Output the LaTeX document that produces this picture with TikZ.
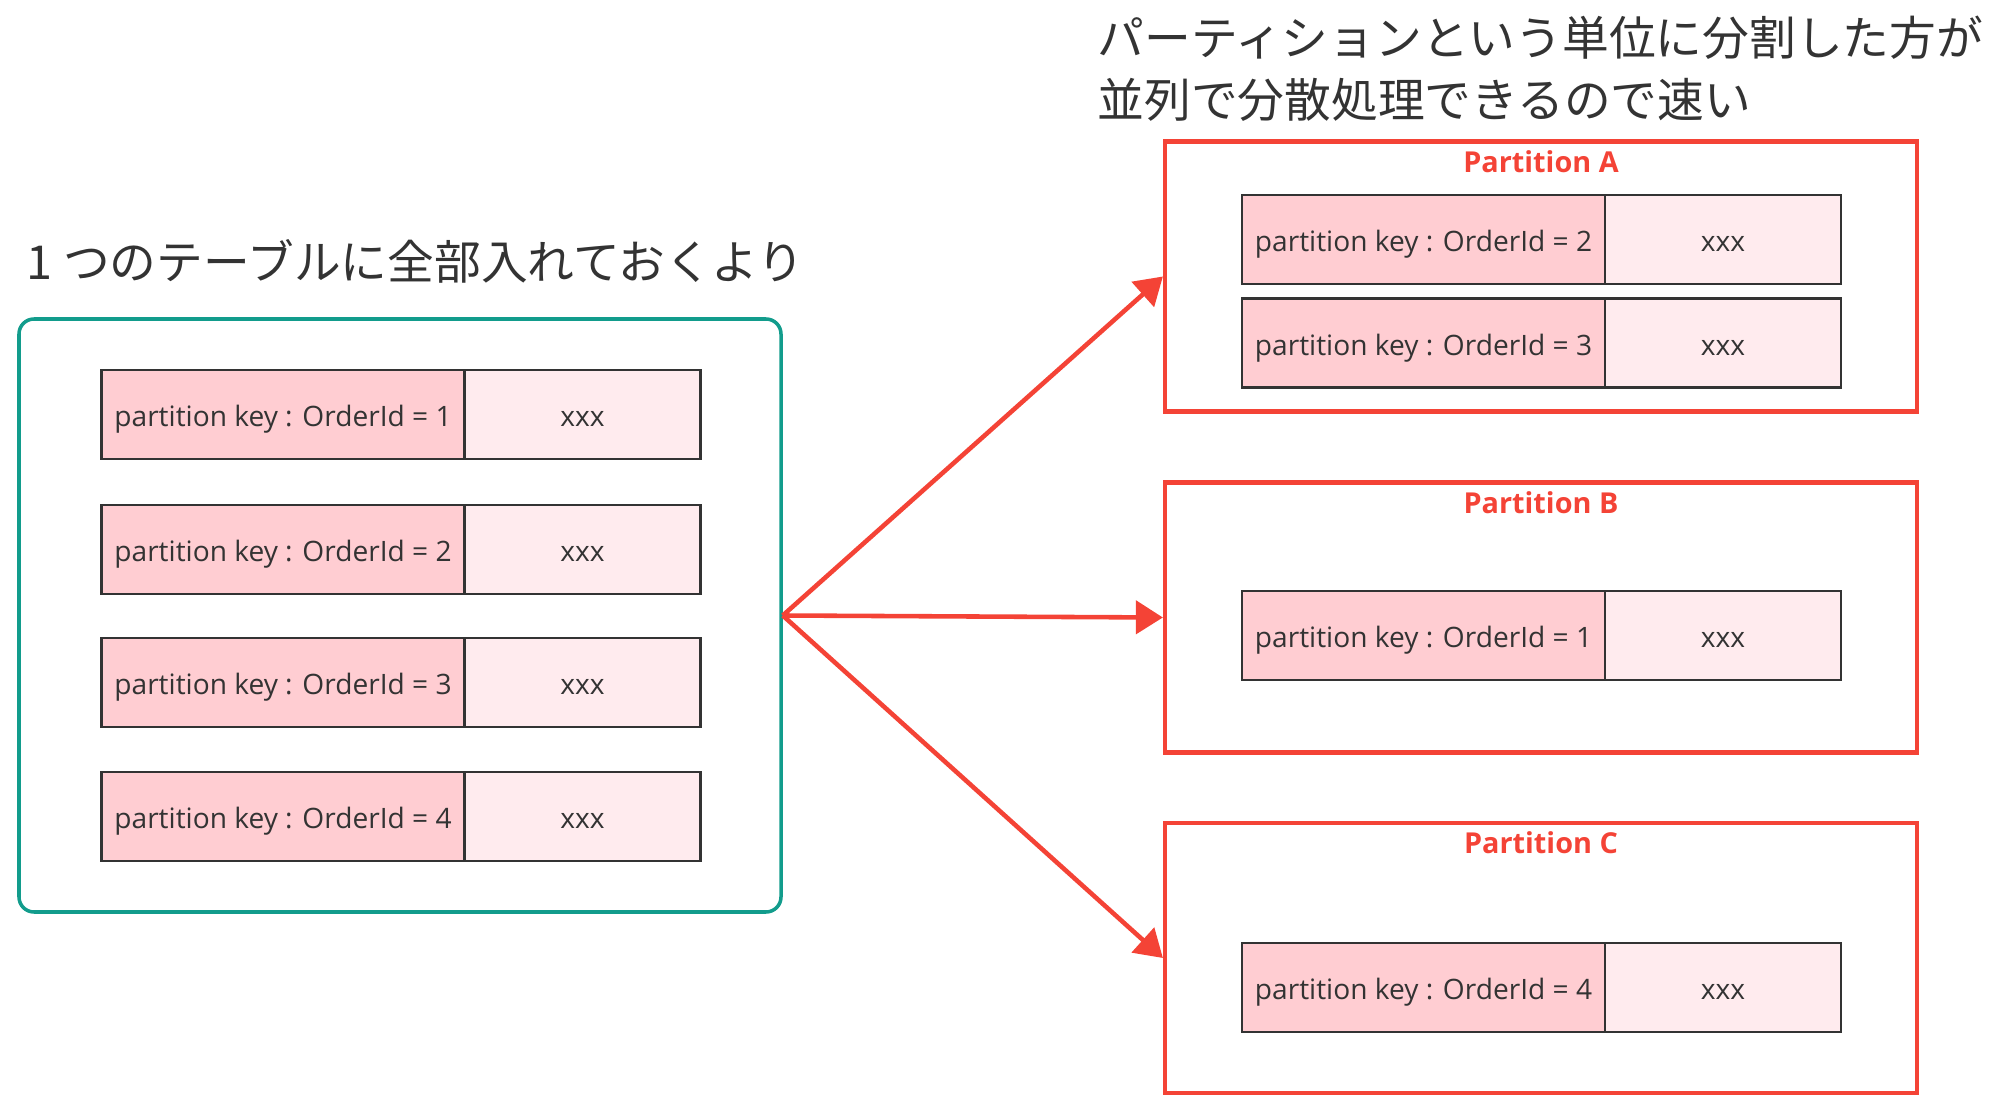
\documentclass[tikz,border=0pt]{standalone}
\usepackage{fontspec}
\setmainfont{Open Sans}
\newfontfamily\jpfont{Noto Sans CJK JP}
\usetikzlibrary{positioning, arrows.meta, calc}

\definecolor{tealline}{HTML}{129C8C}
\definecolor{partred}{HTML}{F44336}
\definecolor{keyfill}{HTML}{FFCDD2}
\definecolor{valfill}{HTML}{FFEBEE}
\definecolor{inkgray}{HTML}{333333}

\begin{document}
\begin{tikzpicture}[
    every node/.style={font=\fontsize{8pt}{10pt}\selectfont, text=inkgray},
    keycell/.style={
        rectangle,
        draw=inkgray,
        fill=keyfill,
        minimum width=3.63cm,
        minimum height=0.89cm,
        text height=1.65ex,
        text depth=0.35ex,
        inner sep=0pt,
        outer sep=0pt,
        line width=0.6pt
    },
    valcell/.style={
        keycell,
        fill=valfill,
        minimum width=2.36cm
    },
    tablebox/.style={
        rectangle,
        draw=tealline,
        minimum width=7.62cm,
        minimum height=5.93cm,
        line width=1pt,
        rounded corners=0.15cm
    },
    partbox/.style={
        rectangle,
        draw=partred,
        minimum width=7.52cm,
        minimum height=2.7cm,
        line width=1.2pt
    },
    ptitle/.style={
        font=\fontsize{8.2pt}{10pt}\selectfont\bfseries,
        text=partred,
        inner sep=0pt
    },
    heading/.style={
        font=\jpfont\fontsize{13.3pt}{17.6pt}\selectfont,
        text=inkgray,
        inner sep=0pt,
        align=left
    },
    arrow/.style={
        -{Triangle[length=0.27cm, width=0.33cm]},
        line width=1.3pt,
        color=partred
    }
]
\useasboundingbox (0,0) rectangle (20,-11.12);

% Headings
\node[heading, anchor=west] (lhead) at (0.26,-2.61) {1 つのテーブルに全部入れておくより};
\node[heading, anchor=north west] (rhead) at (10.97,-0.15)
    {パーティションという単位に分割した方が\\並列で分散処理できるので速い};

% Single table
\node[tablebox] (tbl) at (4.00,-6.155) {};
\foreach \i/\y in {1/4.145, 2/5.495, 3/6.825, 4/8.165} {
    \node[keycell] (lkey\i) at (2.83,-\y) {partition key : OrderId = \i};
    \node[valcell, right=0pt of lkey\i] (lval\i) {xxx};
}

% Partitions
\node[partbox] (partA) at (15.41,-2.765) {};
\node[partbox] (partB) at (15.41,-6.175) {};
\node[partbox] (partC) at (15.41,-9.58) {};
\foreach \p in {A, B, C} {
    \node[ptitle, anchor=base] (title\p) at ($(part\p.north)+(0,-0.33)$) {Partition \p};
}
\foreach \n/\y/\id in {a1/2.395/2, a2/3.43/3, b1/6.355/1, c1/9.875/4} {
    \node[keycell] (rkey\n) at (14.235,-\y) {partition key : OrderId = \id};
    \node[valcell, right=0pt of rkey\n] (rval\n) {xxx};
}

% Split arrows
\draw[arrow] (tbl.east) -- (partA.west);
\draw[arrow] (tbl.east) -- (partB.west);
\draw[arrow] (tbl.east) -- (partC.west);

\end{tikzpicture}
\end{document}
